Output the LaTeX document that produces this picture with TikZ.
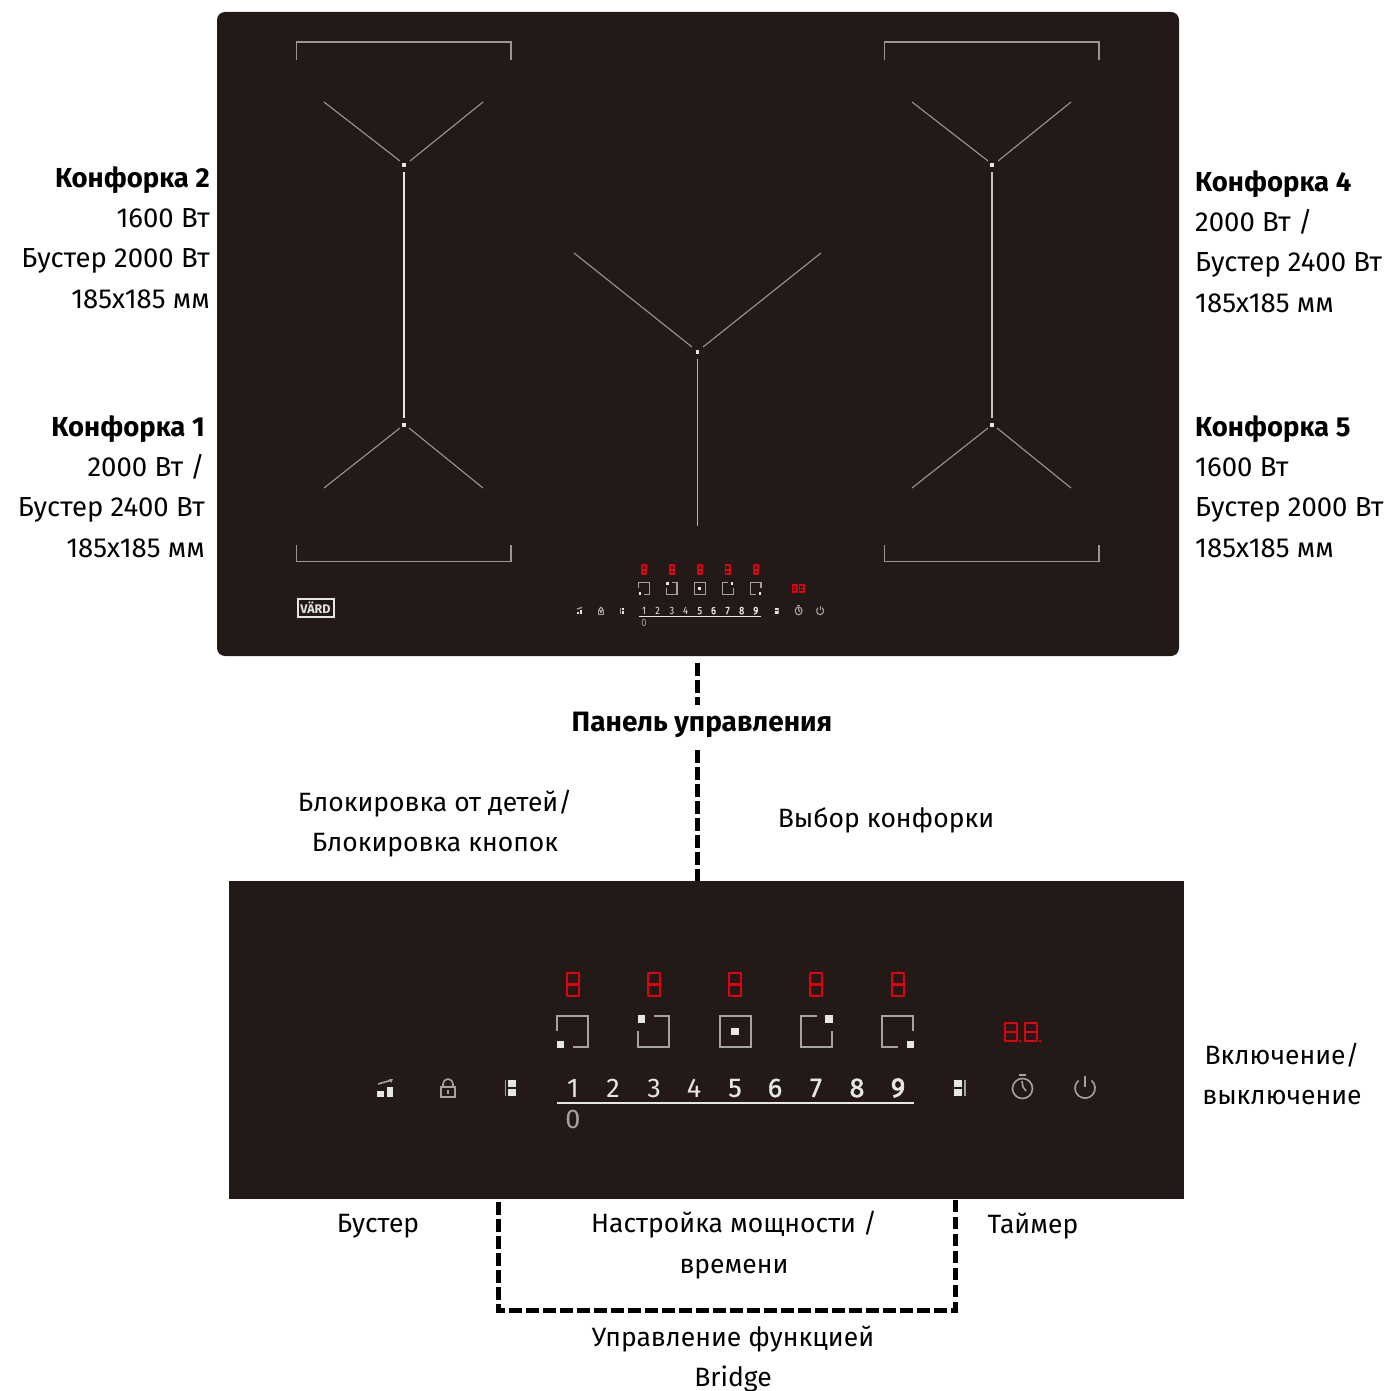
\documentclass[tikz,border=0pt]{standalone}
\usepackage{fontspec}
\setmainfont{Fira Sans}
\definecolor{glass}{HTML}{231A18}
\definecolor{ledred}{HTML}{E00012}
\definecolor{zone}{HTML}{9A9695}
\definecolor{iconfg}{HTML}{E6E6E6}
\definecolor{icongray}{HTML}{A5A3A2}
\tikzset{
  panelbox/.style={fill=glass,draw=none,inner sep=0pt,outer sep=0pt,anchor=north west},
  lbl/.style={font=\fontsize{26.5}{40.4}\selectfont,text=black,inner sep=0pt,align=center},
  lblr/.style={lbl,font=\fontsize{27.5}{40.4}\selectfont,align=right,anchor=east},
  lbll/.style={lbl,font=\fontsize{27.5}{40.4}\selectfont,align=left,anchor=west},
  dashline/.style={line width=5pt,black,dash pattern=on 12.5pt off 4.5pt},
  zoneline/.style={zone,line width=1.1pt},
  seg/.style={ledred,line width=\ps*2.5pt,line join=round},
  sq/.style={icongray,line width=\ps*1.6pt},
  dotf/.style={fill=iconfg,draw=none},
  pow/.style={inner sep=0pt,text=iconfg,font=\fontsize{27}{27}\selectfont}
}
\newcommand{\sevenseg}[3]{% cx, top, bottom
  \draw[seg] (#1-6,#2) rectangle (#1+6,#3);
  \draw[seg] (#1-6,{(#2+#3)/2}) -- (#1+6,{(#2+#3)/2});
}
\newcommand{\controls}[2]{% line factor, prefix
  \def\ps{#1}
  \foreach \x in {573,654,735,816,898} {\sevenseg{\x}{973}{996}}
  \sevenseg{1011}{1023}{1041}
  \sevenseg{1031}{1023}{1041}
  \fill[ledred] (1020,1041) circle[radius=1.5];
  \fill[ledred] (1040,1041) circle[radius=1.5];
  % zone selectors
  \draw[sq] (557,1031) -- (557,1016) -- (588,1016) -- (588,1047) -- (573,1047);
  \fill[dotf] (557,1041) rectangle (564,1048);
  \draw[sq] (654,1016) -- (669,1016) -- (669,1047) -- (638,1047) -- (638,1031);
  \fill[dotf] (638,1015) rectangle (645,1023);
  \draw[sq] (720,1016) rectangle (751,1047);
  \fill[dotf] (731,1028) rectangle (739,1035);
  \draw[sq] (817,1016) -- (801,1016) -- (801,1047) -- (832,1047) -- (832,1031);
  \fill[dotf] (825,1015) rectangle (833,1023);
  \draw[sq] (898,1047) -- (882,1047) -- (882,1016) -- (913,1016) -- (913,1031);
  \fill[dotf] (907,1041) rectangle (914,1048);
  % booster
  \fill[dotf] (377,1091) rectangle (384,1097);
  \fill[dotf] (387,1087) rectangle (393,1097);
  \draw[sq] (378,1084) -- (392,1080);
  \fill[icongray] (393,1079) -- (389,1079) -- (391,1083) -- cycle;
  % lock
  \draw[sq] (441,1087) rectangle (455,1097);
  \draw[sq] (443,1087) -- (443,1084) arc[start angle=180,end angle=360,radius=5] -- (453,1087);
  \draw[sq] (448,1090) -- (448,1094);
  % bridge left
  \draw[sq] (505.5,1080) -- (505.5,1096);
  \fill[dotf] (508,1080) rectangle (516,1087);
  \fill[dotf] (508,1089) rectangle (516,1096);
  % bridge right
  \draw[sq] (965,1080) -- (965,1096);
  \fill[dotf] (954,1080) rectangle (962,1087);
  \fill[dotf] (954,1089) rectangle (962,1096);
  % timer
  \draw[sq] (1022.5,1088.5) circle[radius=10];
  \draw[sq] (1019,1075) -- (1026,1075);
  \draw[sq] (1022,1081) -- (1023,1087) -- (1026,1091);
  % power
  \draw[sq] (1091.5,1080.5) arc[start angle=-50,end angle=230,radius=10];
  \draw[sq] (1085,1076) -- (1085,1087);
  % power scale
  \foreach \n/\x/\b in {1/573/0,2/613/0,3/654/0,4/694/0,5/735/0.3,6/775/1.2,7/816/1.2,8/857/2,9/898/3} {
    \node[pow] (#2n\n) at (\x,1088) {\addfontfeature{FakeBold=\b}\n};
  }
  \coordinate (#2a) at (557,1103);
  \coordinate (#2b) at (914,1103);
  \draw[iconfg,line width=\ps*2pt] (#2a) -- (#2b);
  \node[pow,text=icongray] (#2z) at (573,1119) {0};
}
\newcommand{\zonegroup}[1]{%
  \begin{scope}[xshift=#1pt]
  \draw[zoneline] (296.5,60) -- (296.5,42) -- (511,42) -- (511,60);
  \draw[zoneline] (296.5,545) -- (296.5,561.5) -- (511,561.5) -- (511,545);
  \draw[zoneline] (324,102) -- (400,161);
  \draw[zoneline] (483,102) -- (410,161);
  \draw[zoneline] (324,488) -- (400,428);
  \draw[zoneline] (483,488) -- (409,428);
  \fill[iconfg] (402,163) rectangle (405.5,167);
  \fill[iconfg] (402,422.5) rectangle (405.5,426.5);
  \end{scope}
}
\begin{document}
\begin{tikzpicture}[x=1pt,y=-1pt]
\useasboundingbox (0,0) rectangle (1393,1391);
\node[panelbox,rounded corners=8pt,minimum width=962pt,minimum height=644pt] (big) at (217,12) {};
\node[panelbox,minimum width=955pt,minimum height=318pt] (small) at (229,881) {};
% cooking zones
\zonegroup{0}
\zonegroup{588}
\draw[iconfg,line width=1.7pt] (404,172) -- (404,418);
\draw[zone!60!white,line width=1.1pt] (992,172) -- (992,418);
\draw[zoneline] (574,253) -- (692,347);
\draw[zoneline] (821,253) -- (703,347);
\fill[iconfg] (695.5,350) rectangle (699,354);
\draw[zone!70!white,line width=1.1pt] (697.5,359) -- (697.5,526);
% logo
\node[draw=iconfg,line width=2pt,fill=glass,text=iconfg,inner sep=0pt,minimum width=36pt,minimum height=18pt,font=\fontsize{12.5}{12.5}\bfseries\selectfont] (logo) at (315.5,607.5) {V\"ARD};
% small copy on the hob
\begin{scope}[xshift=446.9pt,yshift=-180.9pt,xscale=.344,yscale=.395,transform shape]
\controls{.7}{s}
\end{scope}
% enlarged control panel
\controls{1}{l}
% labels
\node[lblr] (z2) at (210,237.5) {\textbf{Конфорка 2}\\1600 Вт\\Бустер 2000 Вт\\185х185 мм};
\node[lblr] (z1) at (205,486.5) {\textbf{Конфорка 1}\\2000 Вт /\\Бустер 2400 Вт\\185х185 мм};
\node[lbll] (z4) at (1195,241.5) {\textbf{Конфорка 4}\\2000 Вт /\\Бустер 2400 Вт\\185х185 мм};
\node[lbll] (z5) at (1195,486.5) {\textbf{Конфорка 5}\\1600 Вт\\Бустер 2000 Вт\\185х185 мм};
\node[lbl,font=\fontsize{28}{40.4}\selectfont] (cp) at (702,725) {\textbf{Панель управления}};
\node[lbl] (lock) at (435,823.5) {Блокировка от детей/\\Блокировка кнопок};
\node[lbl] (sel) at (886,820) {Выбор конфорки};
\node[lbl] (onoff) at (1282,1074) {Включение/\\выключение};
\node[lbl] (boost) at (378,1226.5) {Бустер};
\node[lbl] (power) at (734,1245) {Настройка мощности /\\времени};
\node[lbl] (timer) at (1033,1226.5) {Таймер};
\node[lbl] (bridge) at (733,1359) {Управление функцией\\Bridge};
% connectors
\coordinate (c1) at (697.5,663);
\coordinate (c2) at (697.5,705);
\coordinate (c3) at (697.5,750);
\coordinate (b1) at (498,1202);
\coordinate (b2) at (498,1310);
\coordinate (b3) at (955,1310);
\coordinate (b4) at (955,1200);
\draw[dashline] (c1) -- (c2);
\draw[dashline] (c3) -- (small.north -| c3);
\draw[dashline] (b1) -- (b2) -- (b3) -- (b4);
\end{tikzpicture}
\end{document}
